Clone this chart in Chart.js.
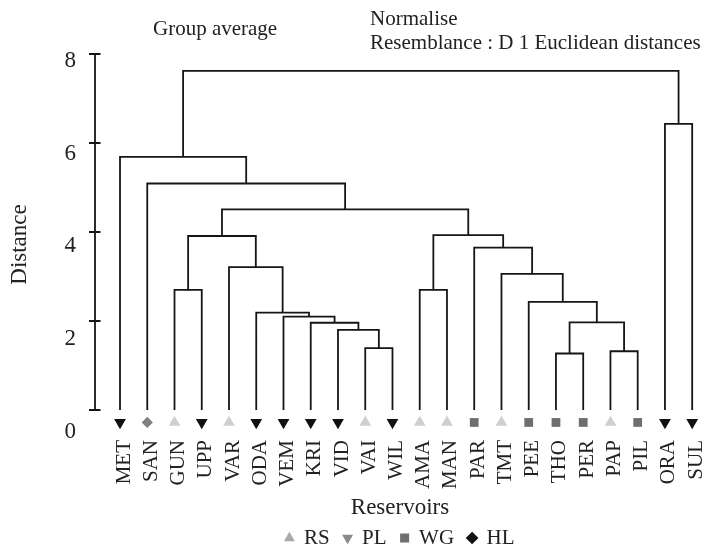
<!DOCTYPE html>
<html><head><meta charset="utf-8">
<script src="https://cdn.jsdelivr.net/npm/chart.js@4.4.1/dist/chart.umd.min.js"></script>
<style>html,body{margin:0;padding:0;background:#fff}#wrap{width:705px;height:551px}</style>
</head><body><div id="wrap"><canvas id="c"></canvas></div>
<script>
// ---- data ----
const leaves = ['MET','SAN','GUN','UPP','VAR','ODA','VEM','KRI','VID','VAI','WIL','AMA','MAN','PAR','TMT','PEE','THO','PER','PAP','PIL','ORA','SUL'];
const leafGroups = ['PL','HL','RS','PL','RS','PL','PL','PL','PL','RS','PL','RS','RS','WG','RS','WG','WG','WG','RS','WG','PL','PL'];
// merge k creates node 22+k from nodes mergeLeft[k] and mergeRight[k] (ids < 22 are leaves)
const mergeLeft   = [16, 18, 9, 8, 7, 22, 6, 5, 15, 2, 11, 14, 4, 13, 31, 32, 36, 1, 0, 20, 40];
const mergeRight  = [17, 19, 10, 24, 25, 23, 26, 28, 27, 3, 12, 30, 29, 33, 34, 35, 37, 38, 39, 21, 41];
const mergeHeight = [1.27, 1.32, 1.39, 1.80, 1.96, 1.97, 2.10, 2.19, 2.43, 2.70, 2.70, 3.06, 3.21, 3.65, 3.91, 3.93, 4.51, 5.09, 5.69, 6.43, 7.62];
const groupNames = ['RS', 'PL', 'WG', 'HL'];
const yTicks = [0, 2, 4, 6, 8];
const titleText = 'Group average';
const noteLines = ['Normalise', 'Resemblance : D 1 Euclidean distances'];
const xTitle = 'Reservoirs';
const yTitle = 'Distance';

// ---- styles ----
const FONT = '"Liberation Serif", "Times New Roman", serif';
const TXT = '#222';
const LINE = '#151515';
const MARK_LEVEL = -0.28;
const markStyle = {
  RS: {pointStyle: 'triangle', rotation: 0,   color: '#cfcfcf', radius: 6.8},
  PL: {pointStyle: 'triangle', rotation: 180, color: '#111111', radius: 6.8},
  WG: {pointStyle: 'rect',     rotation: 0,   color: '#6e6e6e', radius: 6.2},
  HL: {pointStyle: 'rectRot',  rotation: 0,   color: '#808080', radius: 5.6}
};
const legendColor = {RS: '#a9a9a9', PL: '#8a8a8a', WG: '#6e6e6e', HL: '#111111'};

// ---- build dendrogram path from the merges ----
const nodeX = leaves.map((_, i) => i);
const nodeH = leaves.map(() => 0);
const linkData = [];
mergeLeft.forEach((a, k) => {
  const b = mergeRight[k], h = mergeHeight[k];
  linkData.push({x: nodeX[a], y: nodeH[a]}, {x: nodeX[a], y: h},
                {x: nodeX[b], y: h}, {x: nodeX[b], y: nodeH[b]}, {x: nodeX[b], y: null});
  nodeX.push((nodeX[a] + nodeX[b]) / 2);
  nodeH.push(h);
});

const markerSets = groupNames.map(g => ({
  type: 'scatter',
  label: g,
  data: leaves.map((_, i) => i).filter(i => leafGroups[i] === g).map(i => ({x: i, y: MARK_LEVEL})),
  pointStyle: markStyle[g].pointStyle,
  pointRotation: markStyle[g].rotation,
  pointRadius: markStyle[g].radius,
  pointHoverRadius: markStyle[g].radius,
  pointBackgroundColor: markStyle[g].color,
  pointBorderWidth: 0,
  borderColor: markStyle[g].color,
  backgroundColor: markStyle[g].color
}));

const decorPlugin = {
  id: 'decor',
  afterDraw(chart) {
    const ctx = chart.ctx, ys = chart.scales.y, left = chart.chartArea.left;
    ctx.save();
    ctx.strokeStyle = LINE; ctx.lineWidth = 1.8;
    ctx.beginPath();
    ctx.moveTo(left, ys.getPixelForValue(yTicks[0]));
    ctx.lineTo(left, ys.getPixelForValue(yTicks[yTicks.length - 1]));
    yTicks.forEach(v => { const p = ys.getPixelForValue(v); ctx.moveTo(left - 6, p); ctx.lineTo(left + 5.5, p); });
    ctx.stroke();
    ctx.font = '21px ' + FONT; ctx.fillStyle = TXT;
    ctx.textAlign = 'left'; ctx.textBaseline = 'alphabetic';
    ctx.fillText(titleText, 153, 35);
    ctx.fillText(noteLines[0], 370, 25);
    ctx.fillText(noteLines[1], 370, 49);
    ctx.restore();
  }
};

new Chart(document.getElementById('c'), {
  type: 'line',
  data: {
    datasets: [{
      label: 'links', data: linkData, borderColor: LINE, borderWidth: 1.8,
      pointRadius: 0, pointHoverRadius: 0, tension: 0, spanGaps: false, fill: false
    }, ...markerSets]
  },
  options: {
    responsive: true, maintainAspectRatio: false, animation: false,
    layout: {autoPadding: false, padding: {top: 54, left: 0, right: 0, bottom: 0}},
    events: [],
    plugins: {
      tooltip: {enabled: false},
      legend: {
        position: 'bottom', fullSize: false, maxHeight: 37.5,
        labels: {
          usePointStyle: true, boxWidth: 8, boxHeight: 9, padding: 14,
          font: {family: FONT, size: 21}, color: TXT,
          generateLabels: () => groupNames.map(g => ({
            text: g, fillStyle: legendColor[g], strokeStyle: legendColor[g], lineWidth: 0,
            pointStyle: markStyle[g].pointStyle, rotation: markStyle[g].rotation,
            hidden: false, fontColor: TXT
          }))
        }
      }
    },
    scales: {
      x: {
        type: 'linear', min: -0.918, max: 21.47,
        afterBuildTicks: s => { s.ticks = leaves.map((_, i) => ({value: i})); },
        afterFit: s => { s.height = 78.5; s.paddingLeft = 0; s.paddingRight = 0; },
        grid: {display: false, drawTicks: false}, border: {display: false},
        ticks: {
          autoSkip: false, minRotation: 90, maxRotation: 90, padding: 5, labelOffset: 4,
          font: {family: FONT, size: 21}, color: TXT,
          callback: v => leaves[v]
        },
        title: {display: true, text: xTitle, color: TXT,
                font: {family: FONT, size: 23, lineHeight: 0.46}, padding: {top: 0, bottom: 0}}
      },
      y: {type: 'linear', display: false, min: -0.562, max: 8},
      yl: {
        type: 'linear', position: 'left', min: -0.0756, max: 8.151,
        afterBuildTicks: s => { s.ticks = yTicks.map(v => ({value: v})); },
        afterFit: s => { s.width = 95; s.paddingTop = 0; s.paddingBottom = 0; },
        grid: {display: false, drawTicks: false}, border: {display: false},
        ticks: {padding: 19, font: {family: FONT, size: 23}, color: TXT},
        title: {display: true, text: yTitle, color: TXT,
                font: {family: FONT, size: 23}, padding: {top: 6.4, bottom: 0}}
      }
    }
  },
  plugins: [decorPlugin]
});
</script>
</body></html>
